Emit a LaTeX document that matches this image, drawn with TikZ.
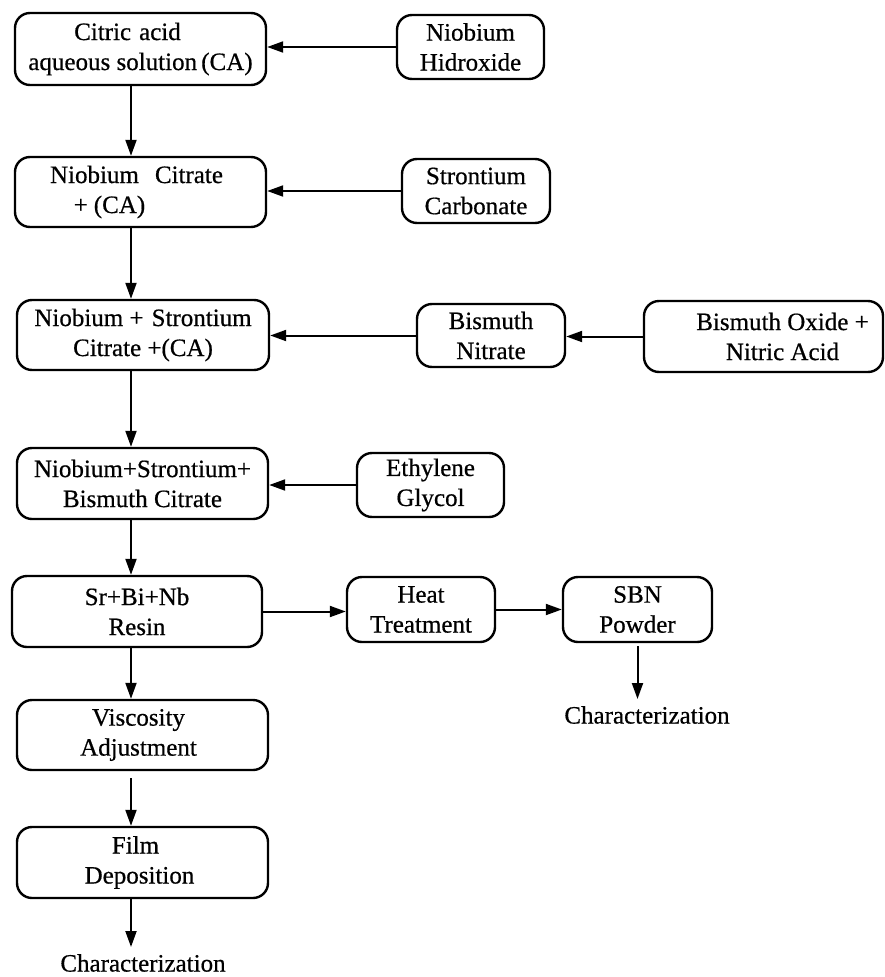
\documentclass[tikz,border=0pt]{standalone}
\usepackage{fontspec}
\setmainfont{Liberation Serif}[FakeBold=0.6]
\newfontfamily\heavy{Liberation Serif}[FakeBold=0.6]
\usetikzlibrary{arrows.meta}
\begin{document}
\begin{tikzpicture}[x=1pt,y=-1pt,
  box/.style={draw, line width=2.4pt, rounded corners=15pt, align=center,
    inner sep=0pt, font=\heavy\fontsize{25}{30}\selectfont},
  wide/.style={minimum width=251pt, minimum height=71pt},
  small/.style={minimum width=148pt, minimum height=64pt},
  arr/.style={line width=2pt, -{Triangle[length=16pt,width=11pt]}},
  lbl/.style={font=\heavy\fontsize{25}{30}\selectfont, inner xsep=0pt, inner ysep=7pt}]
\useasboundingbox (0,0) rectangle (885,977);

% left column
\node[box, wide, minimum height=72pt] (cit) at (140.5,49)
  {Citric\hspace{8pt}acid\rule{26pt}{0pt}\\aqueous solution\,(CA)};
\node[box, wide, minimum height=70pt] (nbc) at (140.5,192)
  {Niobium\hspace{16pt}Citrate\rule{8pt}{0pt}\\+\hspace{6pt}(CA)\rule{62pt}{0pt}};
\node[box, wide, minimum width=252pt, minimum height=70pt] (nbsr) at (143,335)
  {Niobium +\hspace{8pt}Strontium\\Citrate +(CA)};
\node[box, wide] (nbsrbi) at (142.5,483.5)
  {Niobium+Strontium+\\Bismuth Citrate};
\node[box, wide, minimum width=250pt] (sr) at (137,611.5)
  {Sr+Bi+Nb\\Resin};
\node[box, wide, minimum height=70pt] (visc) at (142.5,735)
  {Viscosity\rule{8pt}{0pt}\\Adjustment\rule{8pt}{0pt}};
\node[box, wide] (film) at (142.5,862.5)
  {Film\rule{14pt}{0pt}\\Deposition\rule{6pt}{0pt}};
\node[lbl] (char1) at (143,963) {Characterization};

% right side
\node[box, small, minimum width=147pt] (nh) at (470.5,47) {Niobium\\Hidroxide};
\node[box, small] (sc) at (476,191) {Strontium\\Carbonate};
\node[box, small, minimum height=63pt] (bn) at (491,335.5) {Bismuth\\Nitrate};
\node[box, minimum width=239pt, minimum height=71pt] (bo) at (763.5,336.5)
  {\rule{38pt}{0pt}Bismuth Oxide +\\\rule{38pt}{0pt}Nitric Acid};
\node[box, small, minimum width=147pt] (eg) at (430.5,485) {Ethylene\\Glycol};
\node[box, small, minimum height=65pt] (ht) at (421,609.5) {Heat\\Treatment};
\node[box, small, minimum width=149pt, minimum height=65pt] (sbn) at (637.5,609.5) {SBN\\Powder};
\node[lbl] (char2) at (647,715) {Characterization};

% column for vertical connectors
\coordinate (col) at (131,0);
\coordinate (v1) at ([yshift=-7pt]visc.south);
\coordinate (s1) at ([yshift=-3pt]sbn.south);

% horizontal connectors
\draw[arr] (nh.west) -- (nh.west -| cit.east);
\draw[arr] (sc.west) -- (sc.west -| nbc.east);
\draw[arr] (bn.west) -- (bn.west -| nbsr.east);
\draw[arr] (bo.west) -- (bo.west -| bn.east);
\draw[arr] (eg.west) -- (eg.west -| nbsrbi.east);
\draw[arr] (sr.east) -- (sr.east -| ht.west);
\draw[arr] (ht.east) -- (ht.east -| sbn.west);

% vertical connectors
\draw[arr] (cit.south -| col) -- (nbc.north -| col);
\draw[arr] (nbc.south -| col) -- (nbsr.north -| col);
\draw[arr] (nbsr.south -| col) -- (nbsrbi.north -| col);
\draw[arr] (nbsrbi.south -| col) -- (sr.north -| col);
\draw[arr] (sr.south -| col) -- (visc.north -| col);
\draw[arr] (v1 -| col) -- (film.north -| col);
\draw[arr] (film.south -| col) -- (char1.north -| col);
\draw[arr] (s1) -- (char2.north -| s1);
\end{tikzpicture}
\end{document}
